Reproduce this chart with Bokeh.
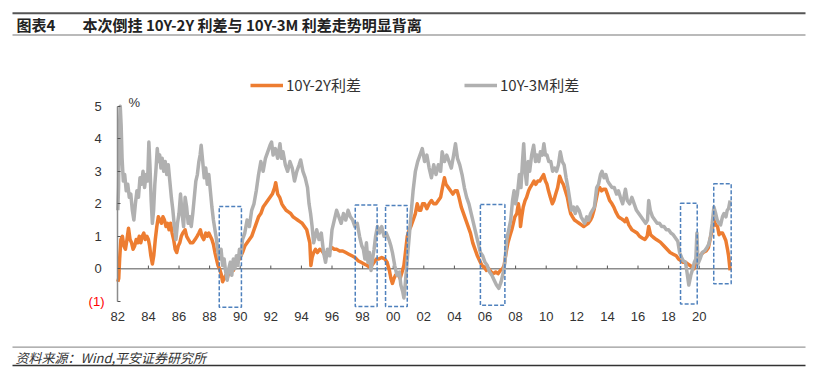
from bokeh.plotting import figure
from bokeh.models import FixedTicker, Legend, LegendItem, Label, BoxAnnotation
from bokeh.embed import file_html
from bokeh.resources import INLINE

# ---------------- data ----------------
yr_3m = [1982.00, 1982.05, 1982.10, 1982.16, 1982.22, 1982.28, 1982.36, 1982.45, 1982.55, 1982.65,
         1982.75, 1982.85, 1982.95, 1983.05, 1983.15, 1983.25, 1983.35, 1983.45, 1983.55, 1983.65,
         1983.75, 1983.85, 1983.95, 1984.03, 1984.10, 1984.18, 1984.26, 1984.34, 1984.42, 1984.50,
         1984.58, 1984.66, 1984.74, 1984.82, 1984.90, 1985.00, 1985.10, 1985.20, 1985.30, 1985.40,
         1985.50, 1985.60, 1985.70, 1985.80, 1985.90, 1986.00, 1986.10, 1986.20, 1986.30, 1986.40,
         1986.50, 1986.60, 1986.70, 1986.80, 1986.90, 1987.00, 1987.10, 1987.20, 1987.30, 1987.38,
         1987.45, 1987.55, 1987.65, 1987.75, 1987.85, 1987.95, 1988.05, 1988.15, 1988.25, 1988.35,
         1988.45, 1988.55, 1988.65, 1988.75, 1988.85, 1988.95, 1989.05, 1989.15, 1989.25, 1989.35,
         1989.45, 1989.55, 1989.65, 1989.75, 1989.85, 1989.95, 1990.05, 1990.15, 1990.30, 1990.45,
         1990.60, 1990.75, 1990.90, 1991.05, 1991.20, 1991.35, 1991.50, 1991.65, 1991.80, 1991.95,
         1992.05, 1992.15, 1992.30, 1992.45, 1992.60, 1992.70, 1992.80, 1992.95, 1993.10, 1993.25,
         1993.40, 1993.55, 1993.70, 1993.85, 1993.95, 1994.10, 1994.25, 1994.40, 1994.50, 1994.60,
         1994.70, 1994.80, 1994.90, 1995.00, 1995.15, 1995.30, 1995.45, 1995.58, 1995.70, 1995.85,
         1996.00, 1996.15, 1996.30, 1996.45, 1996.60, 1996.75, 1996.90, 1997.05, 1997.20, 1997.35,
         1997.50, 1997.65, 1997.80, 1997.95, 1998.05, 1998.15, 1998.25, 1998.35, 1998.45, 1998.55,
         1998.65, 1998.75, 1998.85, 1998.97, 1999.10, 1999.25, 1999.40, 1999.55, 1999.72, 1999.85,
         1999.95, 2000.10, 2000.25, 2000.40, 2000.50, 2000.62, 2000.70, 2000.80, 2000.92, 2001.05,
         2001.15, 2001.30, 2001.45, 2001.60, 2001.75, 2001.90, 2002.05, 2002.20, 2002.35, 2002.50,
         2002.65, 2002.80, 2002.95, 2003.10, 2003.20, 2003.35, 2003.50, 2003.65, 2003.80, 2003.95,
         2004.07, 2004.20, 2004.35, 2004.50, 2004.65, 2004.80, 2004.95, 2005.10, 2005.25, 2005.40,
         2005.55, 2005.70, 2005.85, 2006.00, 2006.15, 2006.30, 2006.45, 2006.60, 2006.75, 2006.90,
         2007.05, 2007.20, 2007.30, 2007.42, 2007.55, 2007.68, 2007.80, 2007.90, 2008.00, 2008.12,
         2008.25, 2008.35, 2008.45, 2008.53, 2008.62, 2008.72, 2008.82, 2008.92, 2009.05, 2009.18,
         2009.30, 2009.40, 2009.52, 2009.62, 2009.75, 2009.85, 2009.95, 2010.05, 2010.17, 2010.30,
         2010.42, 2010.55, 2010.68, 2010.80, 2010.92, 2011.05, 2011.17, 2011.30, 2011.42, 2011.55,
         2011.65, 2011.78, 2011.90, 2012.02, 2012.15, 2012.28, 2012.40, 2012.52, 2012.65, 2012.78,
         2012.90, 2013.02, 2013.15, 2013.30, 2013.42, 2013.55, 2013.65, 2013.78, 2013.90, 2014.02,
         2014.15, 2014.30, 2014.45, 2014.60, 2014.72, 2014.85, 2015.00, 2015.18, 2015.30, 2015.45,
         2015.60, 2015.75, 2015.90, 2016.05, 2016.20, 2016.35, 2016.50, 2016.62, 2016.70, 2016.80,
         2016.95, 2017.10, 2017.25, 2017.40, 2017.55, 2017.70, 2017.85, 2018.00, 2018.15, 2018.30,
         2018.45, 2018.60, 2018.72, 2018.85, 2018.95, 2019.10, 2019.20, 2019.32, 2019.45, 2019.58,
         2019.68, 2019.78, 2019.85, 2019.92, 2020.05, 2020.20, 2020.35, 2020.50, 2020.62, 2020.74,
         2020.85, 2020.96, 2021.05, 2021.18, 2021.30, 2021.40, 2021.52, 2021.62, 2021.75, 2021.83,
         2021.92, 2022.02]
val_3m = [1.8, 2.5, 4.2, 5.0, 4.4, 3.4, 2.7, 2.9, 2.4, 2.6,
          2.2, 2.3, 1.8, 1.5, 2.0, 2.4, 2.2, 2.8, 2.6, 3.0,
          2.5, 2.9, 2.7, 3.9, 3.2, 2.1, 1.4, 1.8, 2.6, 3.1,
          3.7, 3.3, 3.5, 3.1, 3.4, 3.0, 3.3, 2.9, 3.2, 2.7,
          2.2, 1.8, 1.3, 0.9, 1.4, 1.7, 2.3, 1.7, 1.3, 2.2,
          1.9, 1.4, 1.6, 1.3, 1.7, 2.2, 2.7, 2.9, 3.3, 3.5,
          3.8, 3.3, 2.8, 3.1, 2.6, 2.9, 2.4, 1.9, 1.5, 1.2,
          0.9, 0.5, 0.3, 0.6, 0.1, 0.3, -0.1, -0.35, 0.0, 0.2,
          -0.2, 0.3, 0.0, 0.4, 0.1, 0.6, 0.4, 0.9, 1.1, 1.5,
          1.3, 1.8, 2.0, 2.4, 2.9, 3.3, 3.0, 3.4, 3.6, 3.8,
          3.9, 3.5, 3.7, 3.4, 3.85, 3.4, 3.6, 3.2, 3.0, 3.3,
          3.1, 2.7, 3.0, 3.2, 3.35, 3.0, 2.8, 2.5, 2.0, 1.7,
          1.3, 0.8, 1.0, 1.2, 0.9, 1.1, 0.5, 0.2, 0.6, 0.4,
          1.2, 1.5, 1.8, 1.6, 1.4, 1.7, 1.5, 1.8, 1.6, 1.5,
          1.3, 1.4, 1.0, 0.7, 0.6, 0.3, 0.8, 0.2, 0.5, -0.05,
          0.3, 0.6, 1.0, 1.3, 1.1, 1.3, 1.0, 1.1, 0.9, 0.7,
          0.5, 0.1, -0.2, -0.1, -0.5, -0.7, -0.9, -0.4, 0.3, 1.0,
          1.6, 2.4, 3.0, 3.3, 3.5, 3.7, 3.3, 3.5, 3.1, 2.8,
          3.2, 2.9, 3.2, 3.0, 3.6, 3.3, 3.5, 3.3, 3.1, 3.5,
          3.85, 3.4, 3.2, 2.9, 2.5, 2.2, 2.0, 1.7, 1.4, 1.1,
          0.8, 0.5, 0.4, 0.2, 0.1, -0.1, -0.2, -0.35, -0.5, -0.6,
          -0.4, -0.1, 0.2, 0.9, 1.2, 1.5, 2.1, 2.4, 2.0, 2.3,
          2.9, 2.5, 3.3, 3.85, 3.0, 2.6, 3.3, 3.0, 3.5, 3.8,
          3.3, 3.5, 3.3, 3.6, 3.5, 3.85, 3.5, 3.5, 3.3, 3.3,
          3.0, 3.1, 3.0, 3.2, 3.6, 3.3, 3.2, 2.8, 2.5, 2.1,
          1.8, 1.9, 1.7, 1.9, 1.8, 1.6, 1.5, 1.4, 1.6, 1.5,
          1.7, 1.8, 1.9, 2.5, 2.6, 2.9, 3.0, 2.8, 2.9, 2.7,
          2.6, 2.5, 2.5, 2.3, 2.4, 2.2, 2.0, 2.45, 2.1, 2.0,
          2.2, 2.0, 1.8, 1.7, 1.6, 1.5, 1.4, 1.5, 2.1, 1.8,
          1.6, 1.5, 1.4, 1.4, 1.3, 1.3, 1.2, 1.2, 1.1, 1.05,
          0.95, 0.85, 0.5, 0.35, 0.25, 0.2, -0.1, -0.5, -0.2, 0.0,
          0.2, 0.3, 1.1, 0.15, 0.3, 0.5, 0.55, 0.65, 0.75, 1.0,
          1.4, 1.9, 1.75, 1.5, 1.4, 1.35, 1.6, 1.7, 1.6, 1.8,
          1.85, 2.1]

yr_2y = [1982.00, 1982.06, 1982.12, 1982.20, 1982.30, 1982.40, 1982.50, 1982.60, 1982.70, 1982.80,
         1982.90, 1983.00, 1983.10, 1983.20, 1983.30, 1983.40, 1983.50, 1983.60, 1983.70, 1983.80,
         1983.90, 1984.00, 1984.08, 1984.16, 1984.26, 1984.35, 1984.45, 1984.55, 1984.65, 1984.75,
         1984.85, 1984.95, 1985.05, 1985.15, 1985.25, 1985.35, 1985.45, 1985.55, 1985.65, 1985.75,
         1985.85, 1985.95, 1986.05, 1986.15, 1986.25, 1986.40, 1986.50, 1986.62, 1986.75, 1986.90,
         1987.05, 1987.18, 1987.30, 1987.40, 1987.50, 1987.62, 1987.75, 1987.85, 1987.95, 1988.05,
         1988.15, 1988.25, 1988.35, 1988.45, 1988.55, 1988.65, 1988.75, 1988.85, 1988.95, 1989.05,
         1989.15, 1989.25, 1989.35, 1989.45, 1989.55, 1989.65, 1989.75, 1989.85, 1989.95, 1990.05,
         1990.15, 1990.30, 1990.45, 1990.60, 1990.75, 1990.90, 1991.05, 1991.20, 1991.35, 1991.50,
         1991.65, 1991.80, 1991.95, 1992.10, 1992.25, 1992.32, 1992.45, 1992.58, 1992.72, 1992.85,
         1993.00, 1993.15, 1993.30, 1993.45, 1993.60, 1993.75, 1993.90, 1994.05, 1994.20, 1994.35,
         1994.45, 1994.55, 1994.62, 1994.70, 1994.80, 1994.92, 1995.05, 1995.20, 1995.35, 1995.50,
         1995.65, 1995.80, 1996.00, 1996.15, 1996.30, 1996.50, 1996.70, 1996.90, 1997.10, 1997.30,
         1997.50, 1997.70, 1997.90, 1998.10, 1998.30, 1998.45, 1998.60, 1998.75, 1998.90, 1999.05,
         1999.25, 1999.45, 1999.60, 1999.75, 1999.85, 1999.95, 2000.05, 2000.15, 2000.30, 2000.45,
         2000.58, 2000.70, 2000.80, 2000.92, 2001.05, 2001.15, 2001.30, 2001.45, 2001.57, 2001.70,
         2001.80, 2001.92, 2002.05, 2002.20, 2002.35, 2002.50, 2002.65, 2002.80, 2002.95, 2003.10,
         2003.22, 2003.35, 2003.45, 2003.60, 2003.75, 2003.90, 2004.05, 2004.18, 2004.30, 2004.45,
         2004.60, 2004.75, 2004.90, 2005.05, 2005.20, 2005.35, 2005.50, 2005.65, 2005.80, 2005.95,
         2006.10, 2006.25, 2006.40, 2006.55, 2006.70, 2006.85, 2007.00, 2007.15, 2007.25, 2007.38,
         2007.50, 2007.62, 2007.75, 2007.85, 2007.95, 2008.08, 2008.18, 2008.28, 2008.32, 2008.40,
         2008.50, 2008.62, 2008.72, 2008.85, 2008.95, 2009.08, 2009.20, 2009.32, 2009.45, 2009.58,
         2009.70, 2009.83, 2009.95, 2010.05, 2010.15, 2010.27, 2010.40, 2010.50, 2010.62, 2010.75,
         2010.88, 2011.00, 2011.12, 2011.25, 2011.38, 2011.50, 2011.60, 2011.72, 2011.85, 2012.00,
         2012.15, 2012.30, 2012.45, 2012.60, 2012.75, 2012.90, 2013.00, 2013.12, 2013.25, 2013.38,
         2013.50, 2013.62, 2013.75, 2013.88, 2014.00, 2014.15, 2014.30, 2014.42, 2014.55, 2014.72,
         2014.88, 2015.03, 2015.15, 2015.25, 2015.40, 2015.60, 2015.78, 2015.94, 2016.10, 2016.27,
         2016.45, 2016.60, 2016.70, 2016.82, 2017.00, 2017.20, 2017.46, 2017.70, 2017.90, 2018.10,
         2018.30, 2018.50, 2018.65, 2018.80, 2018.95, 2019.10, 2019.25, 2019.40, 2019.55, 2019.65,
         2019.75, 2019.90, 2020.05, 2020.25, 2020.45, 2020.60, 2020.74, 2020.85, 2020.96, 2021.08,
         2021.20, 2021.30, 2021.40, 2021.52, 2021.62, 2021.74, 2021.85, 2021.92, 2022.02]
val_2y = [-0.4, -0.3, 0.3, 0.9, 1.0, 0.7, 0.6, 0.9, 1.25, 0.9,
          0.8, 0.6, 0.7, 0.9, 0.8, 1.0, 0.8, 1.0, 1.1, 0.9,
          1.0, 0.9, 0.7, 0.4, 0.15, 0.4, 0.9, 1.3, 1.6, 1.5,
          1.4, 1.6, 1.5, 1.3, 1.4, 1.2, 1.4, 1.1, 0.9, 0.6,
          0.5, 0.7, 0.8, 1.0, 1.1, 1.2, 1.0, 0.9, 0.8, 0.8,
          0.9, 1.0, 1.1, 1.2, 1.0, 0.9, 1.1, 1.0, 1.1, 1.0,
          0.9, 0.75, 0.5, 0.3, 0.1, 0.0, -0.15, -0.4, -0.3, -0.2,
          -0.3, -0.1, -0.15, 0.0, -0.05, 0.1, 0.1, 0.25, 0.3, 0.4,
          0.5, 0.7, 0.8, 0.9, 1.0, 1.2, 1.4, 1.6, 1.7, 1.9,
          2.0, 2.1, 2.2, 2.3, 2.5, 2.65, 2.3, 2.2, 2.0, 1.9,
          1.8, 1.75, 1.7, 1.6, 1.55, 1.5, 1.45, 1.4, 1.3, 1.2,
          1.0, 0.8, 0.1, 0.35, 0.5, 0.6, 0.5, 0.6, 0.55, 0.45,
          0.5, 0.55, 0.65, 0.6, 0.6, 0.55, 0.55, 0.5, 0.45, 0.4,
          0.35, 0.25, 0.2, 0.15, 0.1, 0.05, 0.1, 0.2, 0.3, 0.3,
          0.35, 0.3, 0.2, -0.05, -0.3, -0.45, -0.3, -0.2, -0.15, -0.3,
          -0.1, 0.1, 0.5, 1.0, 1.2, 1.3, 1.5, 1.7, 2.0, 1.8,
          1.8, 2.0, 2.0, 1.85, 2.0, 2.1, 2.0, 2.0, 2.1, 2.2,
          2.5, 2.8, 2.6, 2.5, 2.4, 2.3, 2.4, 2.4, 2.2, 1.9,
          1.7, 1.5, 1.3, 1.1, 0.8, 0.6, 0.4, 0.25, 0.1, 0.05,
          -0.05, 0.0, -0.1, -0.15, -0.1, -0.15, -0.05, 0.0, 0.1, 0.5,
          0.8, 1.0, 1.2, 1.4, 1.6, 1.7, 2.0, 1.7, 1.3, 1.6,
          1.9, 2.1, 2.2, 2.4, 2.5, 2.6, 2.7, 2.6, 2.7, 2.7,
          2.8, 2.9, 2.7, 2.6, 2.4, 2.2, 2.0, 2.1, 2.3, 2.5,
          2.85, 2.7, 2.6, 2.4, 2.2, 1.9, 1.7, 1.6, 1.5, 1.45,
          1.4, 1.35, 1.3, 1.35, 1.4, 1.5, 1.6, 1.8, 2.1, 2.4,
          2.5, 2.4, 2.45, 2.45, 2.3, 2.1, 2.0, 1.9, 1.75, 1.6,
          1.55, 1.5, 1.45, 1.55, 1.35, 1.2, 1.15, 1.1, 1.0, 0.95,
          0.9, 1.0, 1.3, 1.05, 0.97, 0.9, 0.82, 0.7, 0.6, 0.5,
          0.45, 0.4, 0.3, 0.25, 0.2, 0.2, 0.15, 0.1, 0.05, 0.0,
          0.15, 0.25, 0.4, 0.5, 0.55, 0.65, 0.97, 1.2, 1.5, 1.35,
          1.3, 1.05, 1.1, 1.1, 1.0, 0.87, 0.6, 0.4, -0.05]

# dashed highlight boxes (period start/end, spread bottom/top)
box_left = [1988.63, 1997.52, 1999.50, 2005.70, 2018.78, 2020.95]
box_right = [1990.08, 1998.95, 2000.92, 2007.30, 2019.87, 2022.09]
box_bottom = [-1.18, -1.16, -1.16, -1.12, -1.08, -0.46]
box_top = [1.92, 1.96, 1.95, 1.98, 2.02, 2.62]

x_ticks = list(range(1982, 2021, 2))
x_tick_labels = ["82", "84", "86", "88", "90", "92", "94", "96", "98", "00",
                 "02", "04", "06", "08", "10", "12", "14", "16", "18", "20"]
y_ticks = [-1, 0, 1, 2, 3, 4, 5]
y_tick_labels = ["(1)", "0", "1", "2", "3", "4", "5"]

title_tag = "图表4"
title_text = "本次倒挂 10Y-2Y 利差与 10Y-3M 利差走势明显背离"
legend_2y = "10Y-2Y利差"
legend_3m = "10Y-3M利差"
source_text = "资料来源：Wind,平安证券研究所"
unit_text = "%"

# ---------------- styling ----------------
ORANGE = "#ED7D31"
GRAY = "#B0B0B0"
BLUE = "#4F81BD"
TXT = "#333333"
FONT = "Liberation Sans, Noto Sans CJK SC"
CJK = "Noto Sans CJK SC, Liberation Sans"

W, H = 815, 377
# the plot frame fills the canvas; axes are pinned inside it (fixed_location)
PX_PER_YEAR = 15.3
PX_PER_UNIT = 32.5
X0_PX, Y0_PX = 117.3, 268.3   # canvas position of (1982, 0)
x_start = x_ticks[0] - X0_PX / PX_PER_YEAR
x_end = x_ticks[0] + (W - X0_PX) / PX_PER_YEAR
y_end = Y0_PX / PX_PER_UNIT
y_start = -(H - Y0_PX) / PX_PER_UNIT

p = figure(width=W, height=H, output_backend="svg", toolbar_location=None,
           x_range=(x_start, x_end), y_range=(y_start, y_end), title=None,
           min_border=0, min_border_left=0, min_border_right=0,
           min_border_top=0, min_border_bottom=0)
p.outline_line_color = None
p.xgrid.visible = False
p.ygrid.visible = False
p.background_fill_color = "white"
p.border_fill_color = "white"

# bottom axis: labels only, pinned at the plot-area bottom
xa = p.xaxis[0]
xa.fixed_location = -(309 - Y0_PX) / PX_PER_UNIT
xa.ticker = FixedTicker(ticks=x_ticks)
xa.major_label_overrides = {t: l for t, l in zip(x_ticks, x_tick_labels)}
xa.axis_line_color = None
xa.major_tick_line_color = None
xa.minor_tick_line_color = None
xa.major_tick_in = 0
xa.major_tick_out = 0
xa.major_label_standoff = 2
xa.major_label_text_font = FONT
xa.major_label_text_font_size = "13px"
xa.major_label_text_color = TXT

# left axis pinned at the first year
ya = p.yaxis[0]
ya.fixed_location = x_ticks[0]
ya.ticker = FixedTicker(ticks=y_ticks)
ya.bounds = (y_ticks[0], y_ticks[-1])
ya.major_label_overrides = {t: (l if t >= 0 else "") for t, l in zip(y_ticks, y_tick_labels)}
ya.axis_line_color = "#8c8c8c"
ya.axis_line_width = 1.5
ya.major_tick_in = 3
ya.major_tick_out = 0
ya.major_tick_line_color = "#555555"
ya.minor_tick_line_color = None
ya.major_label_standoff = 16
ya.major_label_text_font = FONT
ya.major_label_text_font_size = "13px"
ya.major_label_text_color = TXT

# zero line with upward ticks
p.segment(x0=[x_ticks[0]], y0=[0], x1=[yr_3m[-1]], y1=[0], line_color="#8c8c8c", line_width=1.6)
p.segment(x0=x_ticks[1:], y0=[0] * (len(x_ticks) - 1), x1=x_ticks[1:], y1=[0.1] * (len(x_ticks) - 1),
          line_color="#555555", line_width=1)

r2 = p.line(yr_2y, val_2y, line_color=ORANGE, line_width=3.5, line_join="round")
r3 = p.line(yr_3m, val_3m, line_color=GRAY, line_width=3.5, line_join="round")

p.quad(left=box_left, right=box_right, bottom=box_bottom, top=box_top,
       fill_color=None, line_color=BLUE, line_width=1.5, line_dash="4 2")

# red negative label and unit
p.add_layout(Label(x=104, x_units="screen", y=y_ticks[0], y_units="data", text=y_tick_labels[0],
                   text_align="right", text_baseline="middle", text_color="#FF0000",
                   text_font=FONT, text_font_size="13px"))
p.add_layout(Label(x=128, x_units="screen", y=H - 101.7, y_units="screen", text=unit_text,
                   text_align="left", text_baseline="middle", text_color=TXT,
                   text_font=FONT, text_font_size="13px"))

legend = Legend(items=[LegendItem(label=legend_2y, renderers=[r2]),
                       LegendItem(label=legend_3m, renderers=[r3])],
                location=(250, H - 95), orientation="horizontal",
                border_line_color=None, background_fill_alpha=0,
                padding=0, margin=0, spacing=0, glyph_width=33, glyph_height=16,
                label_height=16, label_standoff=3, label_width=178,
                label_text_font=CJK, label_text_font_size="15px", label_text_color=TXT)
p.add_layout(legend)

# ---- header / footer in canvas pixels (frame == canvas, y measured from bottom)
def hline(x0, x1, y, thick, color):
    p.add_layout(BoxAnnotation(left=x0, right=x1, top=H - (y - thick / 2), bottom=H - (y + thick / 2),
                               left_units="screen", right_units="screen",
                               top_units="screen", bottom_units="screen",
                               fill_color=color, fill_alpha=1, line_color=None))

hline(12, 805, 12.7, 2, "#555555")
hline(12, 805, 34.5, 1, "#777777")
hline(12, 805, 346.7, 1.2, "#999999")
hline(12, 805, 365, 1.5, "#333333")

p.add_layout(Label(x=16, y=H - 24, x_units="screen", y_units="screen", text=title_tag,
                   text_baseline="middle", text_color="#222222", text_font=CJK,
                   text_font_size="15px", text_font_style="bold"))
p.add_layout(Label(x=82, y=H - 24, x_units="screen", y_units="screen", text=title_text,
                   text_baseline="middle", text_color="#222222", text_font=CJK,
                   text_font_size="15px", text_font_style="bold"))
p.add_layout(Label(x=15, y=H - 356.7, x_units="screen", y_units="screen", text=source_text,
                   text_baseline="middle", text_color="#333333", text_font=CJK,
                   text_font_size="13px", text_font_style="italic"))

open("out.html", "w").write(file_html(p, INLINE))
